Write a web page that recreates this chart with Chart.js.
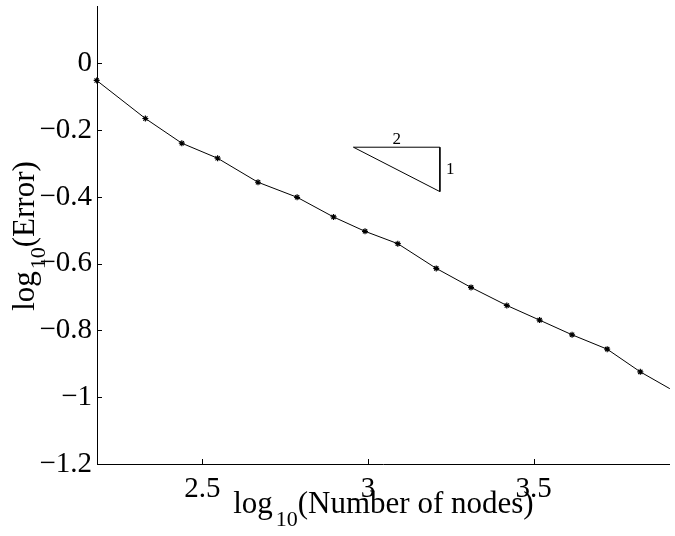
<!DOCTYPE html>
<html>
<head>
<meta charset="utf-8">
<script src="https://cdn.jsdelivr.net/npm/chart.js@4"></script>
<style>
  html, body { margin: 0; padding: 0; background: #fff; }
  canvas { display: block; }
</style>
</head>
<body>
<canvas id="convergence" width="675" height="536"></canvas>
<script>
// log10 of node count vs log10 of error
const logNodes = [2.181, 2.328, 2.438, 2.546, 2.668, 2.786, 2.896, 2.991, 3.090, 3.206, 3.311, 3.419, 3.518, 3.616, 3.722, 3.822, 3.921];
const logError = [-0.051, -0.165, -0.239, -0.284, -0.356, -0.401, -0.460, -0.503, -0.540, -0.614, -0.671, -0.725, -0.769, -0.813, -0.856, -0.924, -0.980];

// slope triangle (2 across, 1 down)
const slopeX = [2.956, 3.217, 3.217, 2.956];
const slopeY = [-0.251, -0.251, -0.384, -0.251];
const slopeLabels = ['2', '1'];

// axis ticks
const xTicks = [2.5, 3, 3.5];
const yTicks = [-1.2, -1, -0.8, -0.6, -0.4, -0.2, 0];

const serif = "'Liberation Serif', 'DejaVu Serif', serif";

function fmt(v) {
    if (v === 0) return '0';
    return (v < 0 ? '\u2212' : '') + Math.abs(v);
}

// matlab style: ticks point inwards, axis titles with subscripts
const axisDecor = {
    id: 'axisDecor',
    afterDraw(chart) {
        const ctx = chart.ctx;
        const area = chart.chartArea;
        const xs = chart.scales.x;
        const ys = chart.scales.y;
        ctx.save();
        ctx.strokeStyle = '#000';
        ctx.lineWidth = 1;
        ctx.beginPath();
        xTicks.forEach(v => {
            const px = Math.round(xs.getPixelForValue(v)) + 0.5;
            ctx.moveTo(px, area.bottom);
            ctx.lineTo(px, area.bottom - 5);
        });
        yTicks.forEach(v => {
            const py = Math.round(ys.getPixelForValue(v)) + 0.5;
            ctx.moveTo(area.left, py);
            ctx.lineTo(area.left + 5, py);
        });
        ctx.stroke();

        // slope triangle labels
        ctx.fillStyle = '#000';
        ctx.font = '17px ' + serif;
        ctx.textAlign = 'center';
        ctx.textBaseline = 'alphabetic';
        ctx.fillText(slopeLabels[0], xs.getPixelForValue((slopeX[0] + slopeX[1]) / 2), ys.getPixelForValue(slopeY[0]) - 3);
        ctx.textAlign = 'left';
        ctx.textBaseline = 'middle';
        ctx.fillText(slopeLabels[1], xs.getPixelForValue(slopeX[1]) + 6, ys.getPixelForValue((slopeY[1] + slopeY[2]) / 2));

        // x title
        const big = '31px ' + serif;
        const small = '22px ' + serif;
        ctx.textBaseline = 'alphabetic';
        ctx.textAlign = 'left';
        let parts = [['log', big, 0], ['10', small, 13], ['(Number of nodes)', big, 0]];
        let widths = parts.map(p => { ctx.font = p[1]; return ctx.measureText(p[0]).width; });
        let total = widths.reduce((a, b) => a + b, 0) + 3;
        let x = (area.left + area.right) / 2 - total / 2;
        parts.forEach((p, i) => {
            ctx.font = p[1];
            ctx.fillText(p[0], x, 513 + p[2]);
            x += widths[i] + (i === 0 ? 3 : 0);
        });

        // y title (rotated)
        ctx.save();
        ctx.translate(34, (area.top + area.bottom) / 2 + 1);
        ctx.rotate(-Math.PI / 2);
        parts = [['log', big, 0], ['10', small, 11], ['(Error)', big, 0]];
        widths = parts.map(p => { ctx.font = p[1]; return ctx.measureText(p[0]).width; });
        total = widths.reduce((a, b) => a + b, 0) + 2;
        x = -total / 2;
        parts.forEach((p, i) => {
            ctx.font = p[1];
            ctx.fillText(p[0], x, p[2]);
            x += widths[i] + (i === 0 ? 2 : 0);
        });
        ctx.restore();
        ctx.restore();
    }
};

function noPad(s) {
    s.paddingTop = 0;
    s.paddingBottom = 0;
    s.paddingLeft = 0;
    s.paddingRight = 0;
}

const ctx = document.getElementById('convergence').getContext('2d');
new Chart(ctx, {
    type: 'line',
    data: {
        datasets: [{
            data: logNodes.map((x, i) => ({ x: x, y: logError[i] })),
            borderColor: '#000',
            backgroundColor: '#000',
            borderWidth: 1,
            pointStyle: 'star',
            pointRadius: 3,
            pointBorderWidth: 1.2,
            pointBorderColor: '#000',
            tension: 0,
            clip: { left: 5, top: 5, right: 0, bottom: 5 }
        }, {
            data: slopeX.map((x, i) => ({ x: x, y: slopeY[i] })),
            borderColor: '#000',
            borderWidth: 1,
            pointRadius: 0,
            tension: 0
        }]
    },
    options: {
        responsive: false,
        devicePixelRatio: 1,
        animation: false,
        layout: { padding: { top: 6, right: 0, left: 0, bottom: 0 } },
        plugins: {
            legend: { display: false },
            tooltip: { enabled: false }
        },
        scales: {
            x: {
                type: 'linear',
                min: 2.182,
                max: 3.911,
                afterBuildTicks: s => { s.ticks = xTicks.map(v => ({ value: v })); },
                afterFit: s => { s.height = 72; noPad(s); },
                grid: { drawOnChartArea: false, drawTicks: false },
                border: { color: '#000', width: 1 },
                ticks: {
                    color: '#000',
                    font: { family: serif, size: 29 },
                    padding: 8,
                    maxRotation: 0,
                    callback: v => fmt(v)
                }
            },
            y: {
                type: 'linear',
                min: -1.2,
                max: 0.172,
                afterBuildTicks: s => { s.ticks = yTicks.map(v => ({ value: v })); },
                afterFit: s => { s.width = 97; noPad(s); },
                grid: { drawOnChartArea: false, drawTicks: false },
                border: { color: '#000', width: 1 },
                ticks: {
                    color: '#000',
                    font: { family: serif, size: 29 },
                    padding: 5,
                    callback: v => fmt(v)
                }
            }
        }
    },
    plugins: [axisDecor]
});
</script>
</body>
</html>
